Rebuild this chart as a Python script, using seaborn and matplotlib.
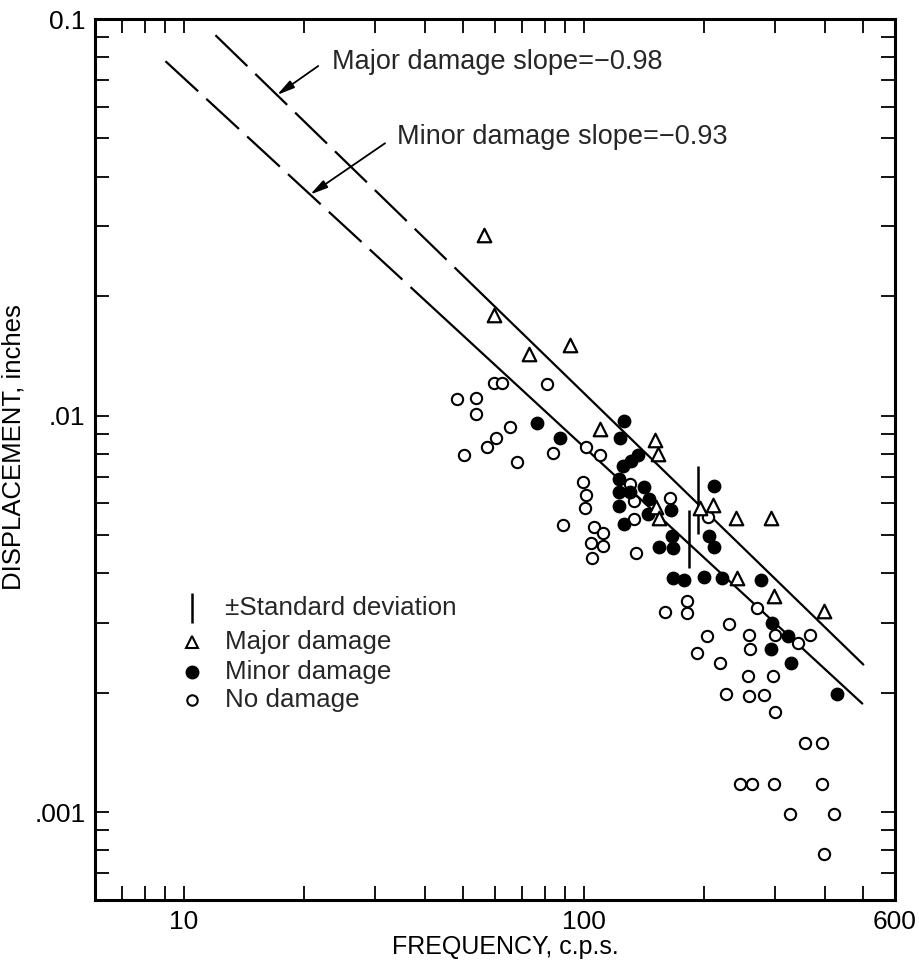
import numpy as np
import pandas as pd
import matplotlib
matplotlib.use("Agg")
import matplotlib.pyplot as plt
import seaborn as sns
from matplotlib.ticker import FixedLocator, FixedFormatter, NullFormatter

# ---------------- data ----------------
major_freq = [56.2, 59.7, 72.9, 92.3, 110, 151, 153, 152, 154, 195, 210, 240, 293, 241, 299, 399]
major_disp = [0.0285, 0.0179, 0.0143, 0.0151, 0.00927, 0.0087, 0.00802, 0.00589, 0.0055,
              0.00586, 0.00596, 0.00553, 0.00553, 0.0039, 0.00351, 0.00322]

minor_freq = [76.5, 87.4, 126.3, 123.4, 125.6, 131.5, 136.8, 122.3, 122.3, 130.3,
              141.3, 145.4, 165, 122.3, 144.5, 125.9, 166, 154, 166.9, 211.3,
              205.4, 211.3, 167.4, 178.3, 200.1, 222, 277.8, 295.6, 323.9, 293.6,
              329.2, 428.5]
minor_disp = [0.0096, 0.0088, 0.00966, 0.0088, 0.00748, 0.0077, 0.00793, 0.0069, 0.00643, 0.00643,
              0.00662, 0.00617, 0.00579, 0.00593, 0.00566, 0.00534, 0.00498, 0.00467, 0.00464, 0.00666,
              0.00498, 0.00467, 0.0039, 0.00385, 0.00392, 0.0039, 0.00385, 0.003, 0.00278, 0.00258,
              0.00238, 0.00199]

none_freq = [48.3, 53.9, 53.9, 59.5, 62.3, 80.7, 65.5, 60.4, 57.4, 50.3,
             68.2, 83.9, 101.5, 110.0, 99.4, 101.2, 100.6, 88.6, 105.9, 111.6,
             104.1, 111.6, 104.7, 130.3, 133.4, 133.4, 134.9, 164.1, 204.2, 181.3,
             181.3, 159.8, 271.3, 230.8, 203.2, 258.8, 300.6, 343.2, 367.8, 191.8,
             260.2, 218.8, 256.9, 296.6, 226.2, 258.2, 281.5, 299.9, 357.9, 394.8,
             245.7, 263.4, 298.9, 394.1, 327.3, 421.7, 397.7]
none_disp = [0.01104, 0.0111, 0.0101, 0.01205, 0.01205, 0.01198, 0.00933, 0.0088, 0.00835, 0.00793,
             0.00765, 0.00806, 0.00835, 0.00797, 0.00681, 0.00632, 0.00586, 0.0053, 0.00524, 0.00506,
             0.00478, 0.0047, 0.00438, 0.00673, 0.0061, 0.00549, 0.00451, 0.00621, 0.00556, 0.00341,
             0.00318, 0.0032, 0.00327, 0.00298, 0.00278, 0.0028, 0.0028, 0.00267, 0.0028, 0.00252,
             0.00258, 0.00238, 0.0022, 0.0022, 0.00199, 0.00196, 0.00197, 0.00179, 0.00149, 0.00149,
             0.00118, 0.00118, 0.00118, 0.00118, 0.000989, 0.000989, 0.000783]

# standard deviation bars
sd_freq = [192.8, 183.0]
sd_low = [0.00504, 0.00413]
sd_high = [0.00748, 0.00579]

# fitted lines: slope, value at 100 c.p.s., dashed range, solid range
major_slope = -0.98
major_at100 = 0.0114
major_dash = [12, 48.6]
major_solid = [48.6, 500]
minor_slope = -0.93
minor_at100 = 0.00834
minor_dash = [9, 38]
minor_solid = [38, 497]

x_ticks = [10, 100, 600]
x_ticklabels = ["10", "100", "600"]
x_minor = [7, 8, 9, 20, 30, 40, 50, 60, 70, 80, 90, 200, 300, 400, 500]
y_ticks = [0.001, 0.01, 0.1]
y_ticklabels = [".001", ".01", "0.1"]
y_minor = [0.0007, 0.0008, 0.0009, 0.002, 0.003, 0.004, 0.005, 0.006, 0.007, 0.008, 0.009,
           0.02, 0.03, 0.04, 0.05, 0.06, 0.07, 0.08, 0.09]

legend_labels = ["\u00b1Standard deviation", "Major damage", "Minor damage", "No damage"]
major_note = "Major damage slope=\u22120.98"
minor_note = "Minor damage slope=\u22120.93"

# ---------------- style ----------------
sns.set_style("white")
plt.rcParams["font.family"] = ["Liberation Sans", "DejaVu Sans"]
plt.rcParams["axes.unicode_minus"] = True

fig = plt.figure(figsize=(9.19, 9.67), dpi=100)
ax = fig.add_axes([0.1034, 0.0693, 0.8705, 0.911])
ax.set_xscale("log")
ax.set_yscale("log")

def line_vals(f, slope, at100):
    f = np.asarray(f, dtype=float)
    return at100 * (f / 100.0) ** slope

# lines
dash_kw = dict(color="black", lw=1.6, linestyle=(0, (20, 5)), solid_capstyle="butt", zorder=2)
solid_kw = dict(color="black", lw=1.6, zorder=2)
ax.plot(major_dash, line_vals(major_dash, major_slope, major_at100), **dash_kw)
ax.plot(major_solid, line_vals(major_solid, major_slope, major_at100), **solid_kw)
ax.plot(minor_dash, line_vals(minor_dash, minor_slope, minor_at100), **dash_kw)
ax.plot(minor_solid, line_vals(minor_solid, minor_slope, minor_at100), **solid_kw)

# std bars
ax.vlines(sd_freq, sd_low, sd_high, colors="black", lw=1.8, zorder=2)

# points
df_none = pd.DataFrame({"f": none_freq, "d": none_disp})
df_minor = pd.DataFrame({"f": minor_freq, "d": minor_disp})
df_major = pd.DataFrame({"f": major_freq, "d": major_disp})
sns.scatterplot(data=df_none, x="f", y="d", ax=ax, marker="o", s=66, color="white",
                edgecolor="black", linewidth=1.5, zorder=3)
sns.scatterplot(data=df_minor, x="f", y="d", ax=ax, marker="o", s=80, color="black",
                edgecolor="black", linewidth=1.0, zorder=4)
sns.scatterplot(data=df_major, x="f", y="d", ax=ax, marker="^", s=95, color="white",
                edgecolor="black", linewidth=1.6, zorder=5)

ax.set_xlim(6, 600)
ax.set_ylim(0.0006, 0.1)

# ticks
ax.xaxis.set_major_locator(FixedLocator(x_ticks))
ax.xaxis.set_major_formatter(FixedFormatter(x_ticklabels))
ax.xaxis.set_minor_locator(FixedLocator(x_minor))
ax.xaxis.set_minor_formatter(NullFormatter())
ax.yaxis.set_major_locator(FixedLocator(y_ticks))
ax.yaxis.set_major_formatter(FixedFormatter(y_ticklabels))
ax.yaxis.set_minor_locator(FixedLocator(y_minor))
ax.yaxis.set_minor_formatter(NullFormatter())
ax.tick_params(which="both", direction="in", top=True, right=True, bottom=True, left=True,
               length=10, width=1.3, color="black", labelsize=19, pad=7, labelcolor="black")
for sp in ax.spines.values():
    sp.set_linewidth(2.2)
    sp.set_color("black")

ax.set_xlabel("FREQUENCY, c.p.s.", fontsize=18, color="black")
ax.xaxis.set_label_coords(0.5125, -0.040)
ax.set_ylabel("DISPLACEMENT, inches", fontsize=18.5, color="black")
ax.yaxis.set_label_coords(-0.087, 0.514)

# annotations
ax.text(0.296, 0.951, major_note, transform=ax.transAxes, ha="left", va="center", fontsize=19.5)
ax.text(0.3775, 0.866, minor_note, transform=ax.transAxes, ha="left", va="center", fontsize=19.5)
arrow_kw = dict(arrowstyle="-|>,head_length=0.7,head_width=0.17", color="black", lw=1.3,
                mutation_scale=15, shrinkA=0, shrinkB=0)
ax.annotate("", xy=(17.1, float(line_vals(17.1, major_slope, major_at100))), xycoords="data",
            xytext=(0.279, 0.9467), textcoords="axes fraction", arrowprops=arrow_kw)
ax.annotate("", xy=(20.7, float(line_vals(20.7, minor_slope, minor_at100))), xycoords="data",
            xytext=(0.3625, 0.859), textcoords="axes fraction", arrowprops=arrow_kw)

# legend (drawn by hand)
lx, tx = 0.121, 0.1625
rows = [0.331, 0.293, 0.259, 0.227]
ax.plot([lx], [rows[0]], transform=ax.transAxes, marker="|", ms=22, mew=1.8, color="black")
ax.plot([lx], [rows[1]], transform=ax.transAxes, marker="^", ms=8.5, mfc="white", mec="black", mew=1.5)
ax.plot([lx], [rows[2]], transform=ax.transAxes, marker="o", ms=9, mfc="black", mec="black")
ax.plot([lx], [rows[3]], transform=ax.transAxes, marker="o", ms=7.5, mfc="white", mec="black", mew=1.5)
for r, lab in zip(rows, legend_labels):
    ax.text(tx, r, lab, transform=ax.transAxes, ha="left", va="center", fontsize=18.7)

fig.savefig("out.png", dpi=100)
